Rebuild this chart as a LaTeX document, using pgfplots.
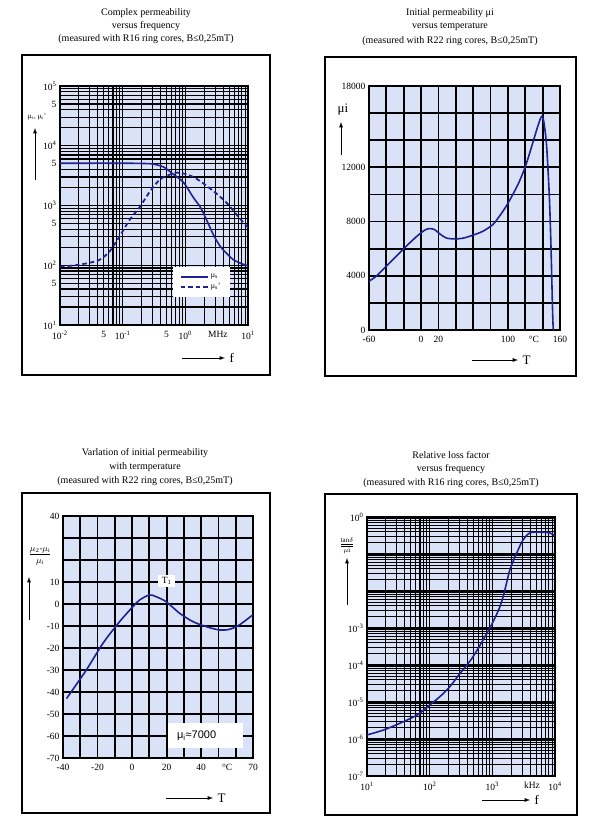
\documentclass[border=0pt]{standalone}
\usepackage{fontspec}
\setmainfont{Liberation Serif}
\newfontfamily\arialf{Liberation Sans}
\usepackage{pgfplots}
\pgfplotsset{compat=1.18}
\newcommand{\pw}[1]{10\textsuperscript{#1}}
\definecolor{bgblue}{RGB}{218,226,247}
\definecolor{curve}{RGB}{30,35,145}
\pgfplotsset{panel/.style={
  scale only axis, anchor=south west,
  axis background/.style={fill=bgblue},
  axis line style={line width=1.4pt},
  major tick length=0pt, minor tick length=0pt,
  ticklabel style={font=\fontsize{9.5}{10}\selectfont},
  xticklabel style={yshift=-2.5pt},
  yticklabel style={xshift=0pt},
  scaled ticks=false,
  clip=true,
}}
\begin{document}
\begin{tikzpicture}[x=1pt,y=1pt]
\path (0,0) rectangle (600,835);
% ---------- frames ----------
\draw[line width=1.1pt] (22,460) rectangle (270,780);
\draw[line width=1.1pt] (325,459) rectangle (576,778);
\draw[line width=1.1pt] (22,22) rectangle (270,342);
\draw[line width=1.1pt] (325,20) rectangle (577,341);
% ---------- titles ----------
\begin{scope}[every node/.style={font=\fontsize{10}{12}\selectfont}]
\node at (146,822) {Complex permeability};
\node at (146,809) {versus frequency};
\node at (146,796) {(measured with R16 ring cores, B≤0,25mT)};
\node at (450,822) {Initial permeability μi};
\node at (450,808) {versus temperature};
\node at (450,794) {(measured with R22 ring cores, B≤0,25mT)};
\node at (145,382) {Varlation of initial permeability};
\node at (145,368) {with termperature};
\node at (145,354) {(measured with R22 ring cores, B≤0,25mT)};
\node at (451,380) {Relative loss factor};
\node at (451,366) {versus frequency};
\node at (451,352) {(measured with R16 ring cores, B≤0,25mT)};
\end{scope}

% ---------- panel 1 ----------
\begin{axis}[panel, at={(60pt,510pt)}, width=188pt, height=239pt,
  xmode=log, ymode=log, xmin=0.01, xmax=10, ymin=10, ymax=1e5,
  xtick={0.01,0.05,0.1,0.5,1,10},
  xticklabels={\pw{-2},5,\pw{-1},5,\pw{0},\pw{1}},
  extra x ticks={3.3}, extra x tick labels={MHz}, extra x tick style={grid=none},
  minor xtick={0.02,0.03,0.04,0.05,0.06,0.07,0.08,0.09,0.2,0.3,0.4,0.5,0.6,0.7,0.8,0.9,2,3,4,5,6,7,8,9},
  ytick={10,50,100,500,1000,5000,10000,50000,100000},
  yticklabels={\pw{1},5,\pw{2},5,\pw{3},5,\pw{4},5,\pw{5}},
  minor ytick={20,30,40,50,60,70,80,90,200,300,400,500,600,700,800,900,2000,3000,4000,5000,6000,7000,8000,9000,20000,30000,40000,50000,60000,70000,80000,90000},
  grid=both, major grid style={black, line width=1.1pt}, minor grid style={black, line width=1.1pt},
  legend style={at={(0.6,0.115)}, anchor=south west, fill=white, draw=none,
    font=\fontsize{8}{9}\selectfont, inner xsep=7pt, inner ysep=5pt, row sep=0pt},
  legend cell align=left,
  legend image code/.code={\draw[#1] (0pt,0pt) -- (27pt,0pt);},
]
\addplot[curve, line width=1.6pt, smooth] coordinates {
(0.01,5100) (0.1,5100) (0.2,5050) (0.3,4950) (0.45,4400) (0.65,3300) (0.93,2450)
(1.35,1350) (1.74,930) (2.24,540) (2.82,320) (3.63,205) (4.79,150) (5.89,123) (7.76,107) (10,98)};
\addlegendentry{μ\textsubscript{s}}
\addplot[curve, line width=1.8pt, dash pattern=on 4.5pt off 3pt, smooth] coordinates {
(0.01,95) (0.0178,100) (0.0295,110) (0.0427,123) (0.0617,170) (0.089,302) (0.129,575)
(0.186,933) (0.275,1740) (0.398,2750) (0.575,3310) (0.741,3550) (1.07,3310) (1.55,2750)
(2.24,2090) (3.31,1510) (4.79,1050) (6.92,660) (10,427)};
\addlegendentry{μ\textsubscript{s}'}
\end{axis}
\node[font=\fontsize{7}{8}\selectfont] at (37,718) {μ\textsubscript{s}, μ\textsubscript{s}'};
\draw[-latex, line width=0.9pt] (35,655) -- (35,707);
\draw[-latex, line width=0.9pt] (182,477) -- (225,477);
\node[font=\fontsize{13}{14}\selectfont, anchor=west] at (226,477) {f};

% ---------- panel 2 ----------
\begin{axis}[panel, at={(369pt,505pt)}, width=191pt, height=244pt,
  xmin=-60, xmax=160, ymin=0, ymax=18000,
  xtick={-60,-40,-20,0,20,40,60,80,100,120,140,160},
  xticklabels={-60,,,0,20,,,,100,,,160},
  extra x ticks={130}, extra x tick labels={°C}, extra x tick style={grid=none},
  ytick={0,2000,4000,6000,8000,10000,12000,14000,16000,18000},
  yticklabels={0,,4000,,8000,,12000,,,18000},
  grid=major, major grid style={black, line width=1.8pt},
]
\addplot[curve, line width=1.6pt, smooth, tension=0.5] coordinates {
(-60,3600) (-51.6,3970) (-40.1,4710) (-28.6,5440) (-17.1,6180) (-5.6,6870) (4,7360)
(9.7,7480) (15.5,7410) (21.2,7110) (28.9,6790) (38.5,6720) (48,6770) (59.5,6990)
(71,7280) (82.5,7770) (90.2,8390) (97.9,9120) (105.5,9980) (113.2,10960) (120.8,12190)
(128.5,13780) (134.3,15010) (138.1,15690) (140,15700) (141.9,15130) (144.6,13540)
(147.7,9860) (149.6,6180) (151.5,1280) (152.3,0)};
\end{axis}
\node[font=\fontsize{13}{14}\selectfont] at (343,725) {μi};
\draw[-latex, line width=0.9pt] (341,680) -- (341,713);
\draw[-latex, line width=0.9pt] (472,475) -- (518,475);
\node[font=\fontsize{13}{14}\selectfont, anchor=west] at (519,475) {T};

% ---------- panel 3 ----------
\begin{axis}[panel, at={(63pt,77pt)}, width=190pt, height=242pt,
  xmin=-40, xmax=70, ymin=-70, ymax=40,
  xtick={-40,-30,-20,-10,0,10,20,30,40,50,60,70},
  xticklabels={-40,,-20,,0,,20,,40,,,70},
  extra x ticks={55}, extra x tick labels={°C}, extra x tick style={grid=none},
  ytick={-70,-60,-50,-40,-30,-20,-10,0,10,20,30,40},
  yticklabels={-70,-60,-50,-40,-30,-20,-10,0,10,,,40},
  grid=major, major grid style={black, line width=1.8pt},
]
\addplot[curve, line width=1.6pt, smooth] coordinates {
(-38,-43) (-26.5,-30) (-16.9,-17.9) (-7.2,-8) (0.5,-1.2) (4.3,1.8) (10,4.1) (14,3.3)
(19.8,1) (27.5,-4.2) (35.2,-8) (43,-10.3) (50.6,-11.8) (56.4,-11.5) (62.1,-9.5) (69.8,-5)};
\node[fill=white, inner xsep=4pt, inner ysep=2pt, font=\fontsize{9.5}{10}\selectfont] at (axis cs:20,10.5) {T\textsubscript{1}};
\fill[white] (axis cs:21,-54) rectangle (axis cs:64,-65.5);
\node[anchor=west, font=\arialf\fontsize{11}{12}\selectfont] at (axis cs:24,-60) {μ\textsubscript{i}≈7000};
\end{axis}
\node[font=\fontsize{9}{10}\selectfont] at (40,279) {$\displaystyle\frac{\mu_2\mbox{-}\mu_{\mathrm{i}}}{\mu_{\mathrm{i}}}$};
\draw[-latex, line width=0.9pt] (29,215) -- (29,258);
\draw[-latex, line width=0.9pt] (166,37) -- (213,37);
\node[font=\fontsize{13}{14}\selectfont, anchor=west] at (214,37) {T};

% ---------- panel 4 ----------
\begin{axis}[panel, at={(367pt,59pt)}, width=188pt, height=259pt,
  xmode=log, ymode=log, xmin=10, xmax=10000, ymin=1e-7, ymax=1,
  xtick={10,100,1000,10000},
  xticklabels={\pw{1},\pw{2},\pw{3},\pw{4}},
  extra x ticks={4300}, extra x tick labels={kHz}, extra x tick style={grid=none},
  minor xtick={20,30,40,50,60,70,80,90,200,300,400,500,600,700,800,900,2000,3000,4000,5000,6000,7000,8000,9000},
  ytick={1e-7,1e-6,1e-5,1e-4,1e-3,1e-2,1e-1,1},
  yticklabels={\pw{-7},\pw{-6},\pw{-5},\pw{-4},\pw{-3},,,\pw{0}},
  minor ytick={2e-7,3e-7,4e-7,5e-7,6e-7,7e-7,8e-7,9e-7,
    2e-6,3e-6,4e-6,5e-6,6e-6,7e-6,8e-6,9e-6,
    2e-5,3e-5,4e-5,5e-5,6e-5,7e-5,8e-5,9e-5,
    2e-4,3e-4,4e-4,5e-4,6e-4,7e-4,8e-4,9e-4,
    2e-3,3e-3,4e-3,5e-3,6e-3,7e-3,8e-3,9e-3,
    0.02,0.03,0.04,0.05,0.06,0.07,0.08,0.09,
    0.2,0.3,0.4,0.5,0.6,0.7,0.8,0.9},
  grid=both, major grid style={black, line width=1.1pt}, minor grid style={black, line width=1.1pt},
]
\addplot[curve, line width=1.6pt, smooth] coordinates {
(10,1.29e-6) (18.2,1.74e-6) (33.9,2.69e-6) (63.1,4.47e-6) (100,8.3e-6) (144.5,1.38e-5)
(209,2.57e-5) (302,5.8e-5) (490,1.66e-4) (912,1.0e-3) (1318,3.72e-3) (1585,1.07e-2)
(1905,3.72e-2) (2455,0.107) (3090,0.24) (3981,0.372) (5754,0.389) (8318,0.372) (10000,0.3)};
\end{axis}
\node[font=\fontsize{7}{8}\selectfont] at (347,289) {$\displaystyle\frac{\underline{\mathrm{tan}\delta}}{\mu\mathrm{i}}$};
\draw[-latex, line width=0.9pt] (347,230) -- (347,277);
\draw[-latex, line width=0.9pt] (482,35) -- (530,35);
\node[font=\fontsize{13}{14}\selectfont, anchor=west] at (531,35) {f};
\end{tikzpicture}
\end{document}
